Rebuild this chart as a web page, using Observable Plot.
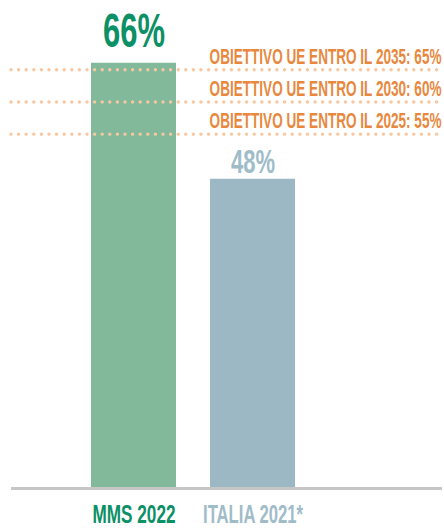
<!DOCTYPE html>
<html>
<head>
<meta charset="utf-8">
<script src="https://cdn.jsdelivr.net/npm/d3@7"></script>
<script src="https://cdn.jsdelivr.net/npm/@observablehq/plot@0.6"></script>
<style>
  html, body { margin: 0; padding: 0; background: #fff; }
  #chart svg { display: block; }
</style>
</head>
<body>
<div id="chart"></div>
<script>
// Data
const categories = ["MMS 2022", "ITALIA 2021*"];
const values = [66, 48];
const valueLabels = ["66%", "48%"];
const targetValues = [65, 60, 55];
const targetLabels = ["OBIETTIVO UE ENTRO IL 2035: 65%", "OBIETTIVO UE ENTRO IL 2030: 60%", "OBIETTIVO UE ENTRO IL 2025: 55%"];

// Styles
const barColors = ["#82b99b", "#9bb8c4"];
const labelColors = ["#0c9066", "#a0bcc9"];
const orange = "#e8883e";
const dotColor = "#f7c7a0";
const font = "'Liberation Sans', Arial, sans-serif";

const bars = categories.map((c, i) => ({cat: c, value: values[i], label: valueLabels[i], i}));
const targets = targetValues.map((v, i) => ({value: v, label: targetLabels[i]}));

const chart = Plot.plot({
  width: 444,
  height: 528,
  marginTop: 37,
  marginBottom: 40,
  marginLeft: 11,
  marginRight: 2,
  style: {fontFamily: font, background: "#fff"},
  x: {type: "band", domain: categories, range: [91, 295], paddingInner: 0.286, paddingOuter: 0, axis: null},
  y: {domain: [0, 70], axis: null},
  marks: [
    Plot.barY(bars, {x: "cat", y: "value", fill: d => barColors[d.i]}),
    Plot.ruleY([0], {stroke: "#c6c6c6", strokeWidth: 3}),
    Plot.ruleY(targets, {y: "value", stroke: dotColor, strokeWidth: 3.4, strokeDasharray: "0,7.6", strokeLinecap: "round"}),
    Plot.text(targets, {y: "value", text: "label", frameAnchor: "right", dx: -1, textAnchor: "end", lineAnchor: "bottom", dy: -6, fill: orange, fontSize: 21.5, fontWeight: "bold", className: "tgt"}),
    Plot.text(bars.slice(0, 1), {x: "cat", y: "value", text: "label", lineAnchor: "bottom", dy: -16, fill: labelColors[0], fontSize: 49, fontWeight: "bold", className: "vl0"}),
    Plot.text(bars.slice(1), {x: "cat", y: "value", text: "label", lineAnchor: "bottom", dy: -6, fill: labelColors[1], fontSize: 33, fontWeight: "bold", className: "vl1"}),
    Plot.text(bars, {x: "cat", frameAnchor: "bottom", text: "cat", lineAnchor: "bottom", dy: 34, fill: d => labelColors[d.i], fontSize: 25, fontWeight: "bold", className: "xl"})
  ]
});
document.getElementById("chart").appendChild(chart);

// squeeze text horizontally (about its anchor) to mimic the condensed display font
function squeeze(cls, widths) {
  chart.querySelectorAll(`g.${cls} text`).forEach((t, i) => {
    const w = t.getComputedTextLength();
    const sx = widths[i % widths.length] / w;
    const ax = +(t.getAttribute("x") || 0);
    const tr = t.getAttribute("transform") || "";
    t.setAttribute("transform", `${tr} translate(${ax},0) scale(${sx},1) translate(${-ax},0)`);
  });
}
squeeze("tgt", [232]);
squeeze("vl0", [62]);
squeeze("vl1", [44]);
squeeze("xl", [83, 100]);
</script>
</body>
</html>
